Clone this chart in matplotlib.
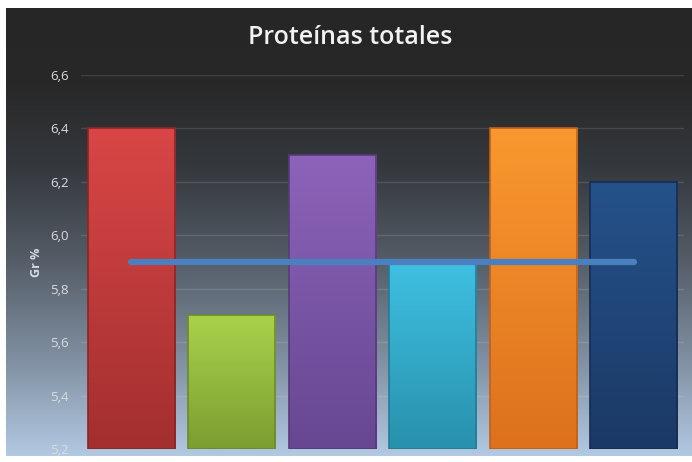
import numpy as np
import matplotlib
matplotlib.use("Agg")
import matplotlib.pyplot as plt
from matplotlib.colors import LinearSegmentedColormap, to_rgb

categories = ["A", "B", "C", "D", "E", "F"]
values = [6.4, 5.7, 6.3, 5.9, 6.4, 6.2]
average = 5.9
yticks = [5.2, 5.4, 5.6, 5.8, 6.0, 6.2, 6.4, 6.6]
ytick_labels = ["5,2", "5,4", "5,6", "5,8", "6,0", "6,2", "6,4", "6,6"]

# top / bottom colours for each bar gradient
bar_tops = ["#d94646", "#a9d24c", "#8c63b9", "#3fc0e2", "#f9982f", "#25528a"]
bar_bottoms = ["#a32f2f", "#7c9d30", "#674792", "#2891ad", "#dd711d", "#1b3966"]
bar_edges = ["#8a2626", "#6d8a28", "#58397e", "#217d96", "#c0601a", "#152d52"]

fig = plt.figure(figsize=(6.92, 4.62), dpi=100)
fig.patch.set_facecolor("white")

# background gradient panel
bg = fig.add_axes([6 / 692, 6 / 462, 686 / 692, 448 / 462])
bg_cmap = LinearSegmentedColormap.from_list(
    "bg",
    [(0.0, "#262626"), (0.17, "#282828"), (0.35, "#34383d"),
     (0.55, "#525a64"), (0.78, "#7f8ea0"), (1.0, "#b2c9e2")])
grad = np.linspace(0, 1, 256).reshape(-1, 1)
bg.imshow(grad, aspect="auto", cmap=bg_cmap, extent=[0, 1, 0, 1], origin="upper")
bg.set_axis_off()

ax = fig.add_axes([81 / 692, 13 / 462, 603 / 692, 374 / 462])
ax.patch.set_alpha(0)
x = np.arange(len(categories))

for y in yticks:
    ax.axhline(y, color="white", alpha=0.12, lw=1, zorder=0)

bars = ax.bar(x, values, width=0.87, bottom=0, color="none", zorder=2)
for b, top, bot, edge in zip(bars, bar_tops, bar_bottoms, bar_edges):
    cmap = LinearSegmentedColormap.from_list("b", [to_rgb(bot), to_rgb(top)])
    x0, w = b.get_x(), b.get_width()
    h = b.get_height()
    im = ax.imshow(np.linspace(0, 1, 128).reshape(-1, 1), cmap=cmap, aspect="auto",
                   extent=[x0, x0 + w, 5.2, h], origin="lower", zorder=2)
    rect = plt.Rectangle((x0, 5.2), w, h - 5.2, facecolor="none",
                         edgecolor=edge, lw=1.2, zorder=3)
    ax.add_patch(rect)
    im.set_clip_path(rect)
ax.set_xlim(-0.5, len(categories) - 0.5)
ax.set_ylim(5.2, 6.6)

ax.plot([x[0], x[-1]], [average, average], color="#4a80bf", lw=4.5,
        solid_capstyle="round", zorder=4)

for s in ax.spines.values():
    s.set_visible(False)
ax.set_xticks([])
ax.set_yticks(yticks)
ax.set_yticklabels(ytick_labels, color="#dcdcdc", fontsize=9.5, fontfamily="Open Sans")
ax.tick_params(axis="y", length=0, pad=9)
ax.set_ylabel("Gr %", color="#d8dde5", fontsize=9, fontweight="bold",
              fontfamily="Open Sans", labelpad=5)

fig.text(0.5 + 4 / 692, 1 - 38 / 462, "Proteínas totales", ha="center", va="center",
         color="#f2f2f2", fontsize=18, fontweight="semibold", fontfamily="Open Sans")

fig.savefig("out.png", dpi=100)
